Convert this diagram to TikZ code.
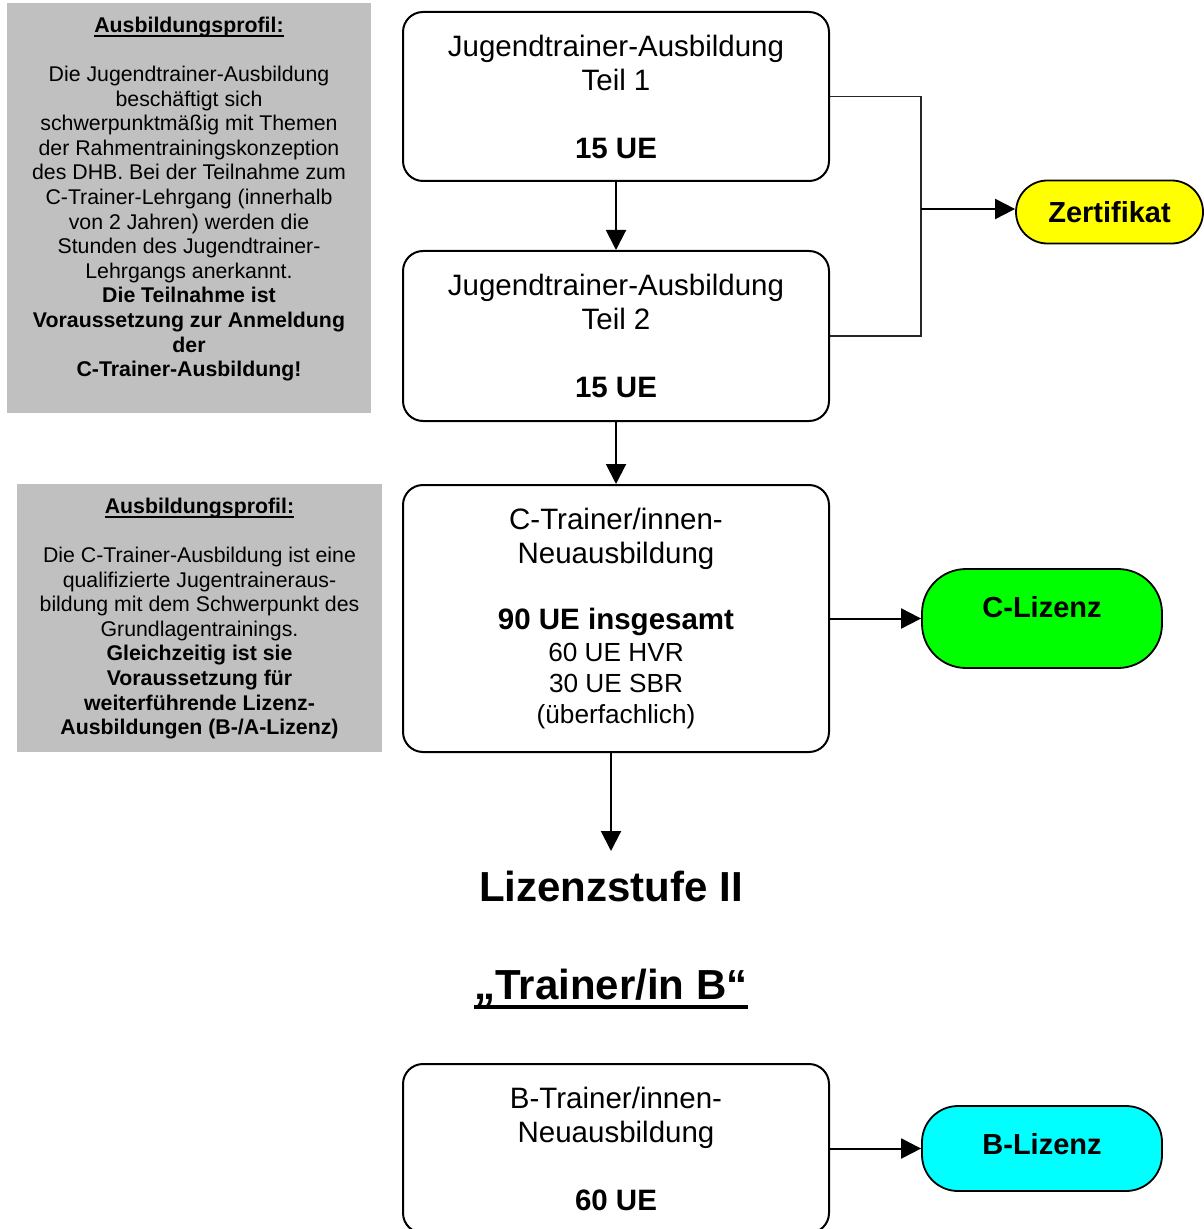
\documentclass[tikz,border=0pt]{standalone}
\usepackage{fontspec}
\setmainfont{Liberation Sans}
\usetikzlibrary{arrows.meta}
\definecolor{greybg}{HTML}{C0C0C0}
\definecolor{zyellow}{HTML}{FFFF00}
\definecolor{lgreen}{HTML}{00FF00}
\definecolor{lcyan}{HTML}{00FFFF}
\newcommand\mainfs{\fontsize{14.75pt}{17pt}\selectfont}
\newcommand\smallfs{\fontsize{13.1pt}{15.25pt}\selectfont}
\newcommand\greyfs{\fontsize{10.65pt}{12.3pt}\selectfont}
\newcommand\titlefs{\fontsize{21pt}{25pt}\selectfont\bfseries}
\newcommand\labfs{\fontsize{14.5pt}{17pt}\selectfont\bfseries}
\newsavebox\ulbox
\newcommand\myul[3]{\sbox\ulbox{#3}\rlap{\usebox\ulbox}\rule[-#1]{\wd\ulbox}{#2}}
\newcommand\gtitle[1]{{\bfseries\myul{2.3pt}{0.8pt}{#1}}}
\begin{document}
\begin{tikzpicture}[x=0.5pt,y=-0.5pt,
  stepbox/.style={draw, line width=1pt, rounded corners=10pt, minimum width=213pt,
    align=center, font=\mainfs, inner sep=0pt},
  greybox/.style={fill=greybg, draw=none, inner sep=0pt},
  greytext/.style={align=center, font=\greyfs, inner sep=0pt},
  result/.style={draw, line width=0.9pt, font=\labfs, inner sep=0pt},
  conn/.style={line width=1pt, -{Triangle[length=10pt,width=10pt]}},
  bracket/.style={line width=0.8pt, draw=black!85}]
\useasboundingbox (0,0) rectangle (1203,1229);

% grey info boxes
\node[greybox, minimum width=182pt, minimum height=205pt] (g1) at (189,208) {};
\node[greytext] (g1t) at (189,199) {\gtitle{Ausbildungsprofil:}\\[12.3pt]
Die Jugendtrainer-Ausbildung\\
beschäftigt sich\\
schwerpunktmäßig mit Themen\\
der Rahmentrainingskonzeption\\
des DHB. Bei der Teilnahme zum\\
C-Trainer-Lehrgang (innerhalb\\
von 2 Jahren) werden die\\
Stunden des Jugendtrainer-\\
Lehrgangs anerkannt.\\
\textbf{Die Teilnahme ist}\\
\textbf{Voraussetzung zur Anmeldung}\\
\textbf{der}\\
\textbf{C-Trainer-Ausbildung!}};

\node[greybox, minimum width=182.5pt, minimum height=134pt] (g2) at (199.5,618) {};
\node[greytext] (g2t) at (199.5,618.5) {\gtitle{Ausbildungsprofil:}\\[12.3pt]
Die C-Trainer-Ausbildung ist eine\\
qualifizierte Jugentraineraus-\\
bildung mit dem Schwerpunkt des\\
Grundlagentrainings.\\
\textbf{Gleichzeitig ist sie}\\
\textbf{Voraussetzung für}\\
\textbf{weiterführende Lizenz-}\\
\textbf{Ausbildungen (B-/A-Lizenz)}};

% main boxes
\node[stepbox, minimum height=84.5pt] (b1) at (616,96.5)
  {Jugendtrainer-Ausbildung\\Teil 1\\[17pt]\textbf{15 UE}};
\node[stepbox, minimum height=85pt] (b2) at (616,336)
  {Jugendtrainer-Ausbildung\\Teil 2\\[17pt]\textbf{15 UE}};
\node[stepbox, minimum height=133.5pt] (b3) at (616,618.5)
  {C-Trainer/innen-\\Neuausbildung\\[16pt]\textbf{90 UE insgesamt}\\[-1pt]
   {\smallfs 60 UE HVR}\\[-1.5pt]{\smallfs 30 UE SBR}\\[-1.25pt]{\smallfs (überfachlich)}};
\node[stepbox, minimum height=84.5pt] (b4) at (616,1148.5)
  {B-Trainer/innen-\\Neuausbildung\\[17pt]\textbf{60 UE}};

% results
\node[result, fill=zyellow, minimum width=93.5pt, minimum height=31.5pt,
  rounded corners=15.7pt] (zert) at (1109.5,212) {\raisebox{-1pt}{Zertifikat}};
\node[result, fill=lgreen, minimum width=120pt, minimum height=49.5pt,
  rounded corners=22pt] (cl) at (1042,618.5) {\raisebox{12pt}{C-Lizenz}};
\node[result, fill=lcyan, minimum width=120pt, minimum height=42.5pt,
  rounded corners=18pt] (bl) at (1042,1148.5) {\raisebox{4.5pt}{B-Lizenz}};

% titles
\node[font=\titlefs, inner sep=0pt] (lz) at (611,886) {Lizenzstufe II};
\node[font=\titlefs, inner sep=0pt, anchor=base] (tb) at (611,999)
  {\myul{5pt}{2pt}{„Trainer/in B“}};

% connectors
\coordinate (jn) at (921,209);
\coordinate (lzin) at (611,851);
\draw[conn] (b1) -- (b2);
\draw[conn] (b2) -- (b3);
\draw[conn] (b3.south -| lzin) -- (lzin);
\draw[bracket] (b1.east) -| (jn) |- (b2.east);
\draw[conn] (jn) -- (jn -| zert.west);
\draw[conn] (b3) -- (cl);
\draw[conn] (b4) -- (bl);
\end{tikzpicture}
\end{document}
